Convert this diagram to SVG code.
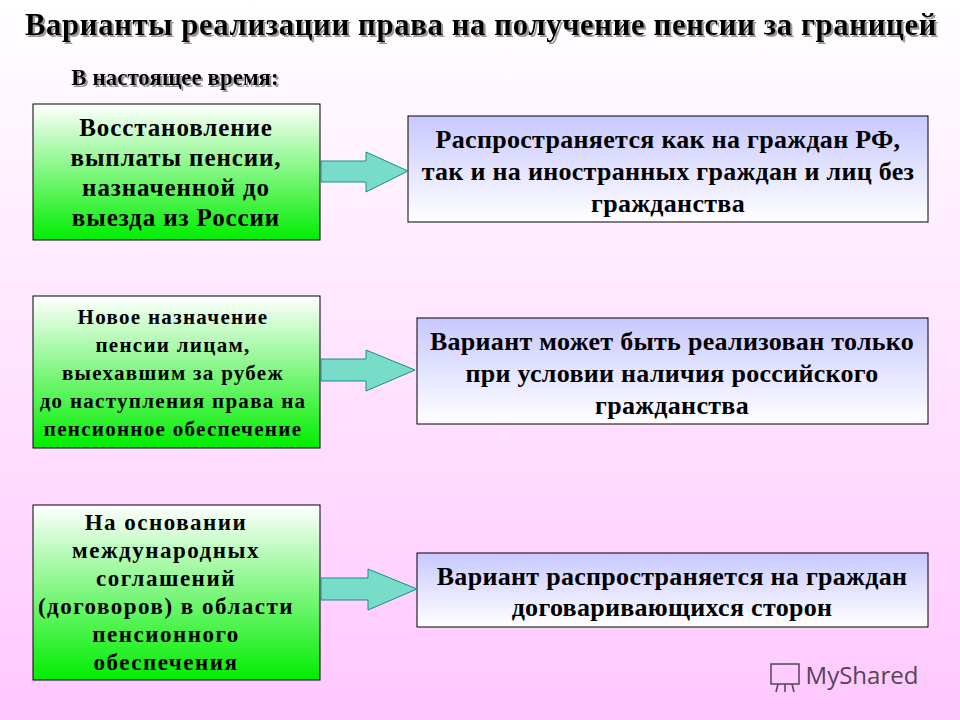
<svg xmlns="http://www.w3.org/2000/svg" width="960" height="720" viewBox="0 0 960 720">
<defs>
<linearGradient id="bg" x1="0" y1="0" x2="0" y2="1"><stop offset="0" stop-color="#ffffff"/><stop offset="1" stop-color="#ffc8ff"/></linearGradient>
<linearGradient id="gr" x1="0" y1="0" x2="0" y2="1"><stop offset="0" stop-color="#ffffff"/><stop offset="1" stop-color="#00ee00"/></linearGradient>
<linearGradient id="bl" x1="0" y1="0" x2="0" y2="1"><stop offset="0" stop-color="#c8c8ff"/><stop offset="1" stop-color="#ffffff"/></linearGradient>
<filter id="sh" x="-5%" y="-20%" width="110%" height="140%"><feDropShadow dx="2" dy="2" stdDeviation="0.5" flood-color="#999999"/></filter>
</defs>
<style>
text{font-family:"Liberation Serif","Times New Roman",serif;font-weight:bold;fill:#000;text-anchor:middle}
.l{font-size:25px;letter-spacing:0.9px}.m{font-size:21px;letter-spacing:1.3px}.s{font-size:23px;letter-spacing:1.5px}.r{font-size:26px;letter-spacing:0.3px}
.gb{fill:url(#gr);stroke:#000;stroke-width:1}
.bb{fill:url(#bl);stroke:#000;stroke-width:1}
.ar{fill:#77dcc8;stroke:#1b8c8c;stroke-width:1}
</style>
<rect width="960" height="720" fill="url(#bg)"/>
<text x="481" y="35" font-size="31" letter-spacing="0.5" filter="url(#sh)">Варианты реализации права на получение пенсии за границей</text>
<text x="175" y="85" font-size="23" filter="url(#sh)">В настоящее время:</text>
<g id="n1"><rect class="gb" x="33" y="104" width="287" height="136"/>
<text class="l" x="176" y="136">Восстановление</text><text class="l" x="176" y="166">выплаты пенсии,</text><text class="l" x="176" y="196">назначенной до</text><text class="l" x="176" y="226">выезда из России</text></g>
<g id="n2"><rect class="bb" x="408" y="116" width="520" height="106"/>
<text class="r" x="668" y="148">Распространяется как на граждан РФ,</text><text class="r" x="668" y="180">так и на иностранных граждан и лиц без</text><text class="r" x="668" y="212">гражданства</text></g>
<g id="n3"><rect class="gb" x="33" y="296" width="287" height="152"/>
<text class="m" x="173" y="324">Новое назначение</text><text class="m" x="173" y="352">пенсии лицам,</text><text class="m" x="173" y="380">выехавшим за рубеж</text><text class="m" x="173" y="408">до наступления права на</text><text class="m" x="173" y="436">пенсионное обеспечение</text></g>
<g id="n4"><rect class="bb" x="417" y="318" width="511" height="106"/>
<text class="r" x="672" y="350">Вариант может быть реализован только</text><text class="r" x="672" y="382">при условии наличия российского</text><text class="r" x="672" y="414">гражданства</text></g>
<g id="n5"><rect class="gb" x="33" y="505" width="287" height="175"/>
<text class="s" x="166" y="530">На основании</text><text class="s" x="166" y="558">международных</text><text class="s" x="166" y="586">соглашений</text><text class="s" x="166" y="614">(договоров) в области</text><text class="s" x="166" y="642">пенсионного</text><text class="s" x="166" y="670">обеспечения</text></g>
<g id="n6"><rect class="bb" x="417" y="553" width="511" height="74"/>
<text class="r" x="672" y="585">Вариант распространяется на граждан</text><text class="r" x="672" y="616">договаривающихся сторон</text></g>
<g id="connectors">
<polygon class="ar" points="321,161 366,161 366,152 408,171 366,192 366,182 321,182"/>
<polygon class="ar" points="321,359 366,359 366,350 415,370 366,391 366,381 321,381"/>
<polygon class="ar" points="321,578 368,578 368,569 417,589 368,610 368,600 321,600"/>
</g>
<g id="logo" fill="none" stroke="#554455" stroke-width="1.5">
<rect x="771" y="664" width="28" height="20"/><line x1="778" y1="684" x2="776" y2="692"/><line x1="785" y1="684" x2="785" y2="692"/><line x1="792" y1="684" x2="794" y2="692"/>
</g>
<text x="862" y="684" font-size="24" style="font-family:'Open Sans','DejaVu Sans',sans-serif;font-weight:normal;fill:#554455">MyShared</text>
</svg>
